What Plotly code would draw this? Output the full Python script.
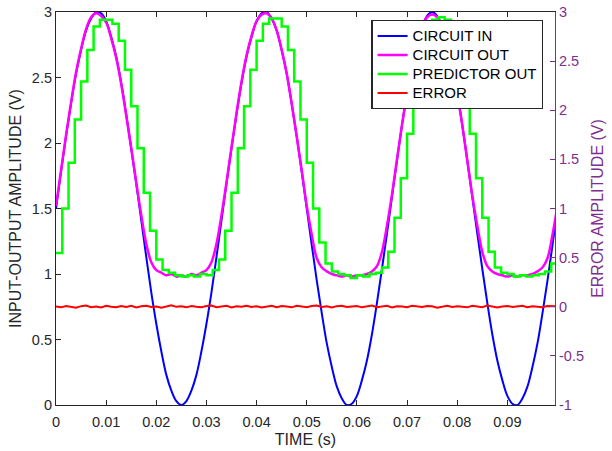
import plotly.graph_objects as go

# Sample grids (s)
DT = 0.001
TS = 0.00125

# Input sine (V)
circuit_in = [
    1.50, 1.78, 2.05, 2.30, 2.53, 2.71, 2.86, 2.95, 3.00, 2.99,
    2.93, 2.81, 2.66, 2.46, 2.22, 1.96, 1.69, 1.41, 1.13, 0.86,
    0.62, 0.41, 0.23, 0.11, 0.03, 0.00, 0.03, 0.11, 0.23, 0.41,
    0.62, 0.86, 1.13, 1.41, 1.69, 1.96, 2.22, 2.46, 2.66, 2.81,
    2.93, 2.99, 3.00, 2.95, 2.86, 2.71, 2.53, 2.30, 2.05, 1.78,
    1.50, 1.22, 0.95, 0.70, 0.47, 0.29, 0.14, 0.05, 0.00, 0.01,
    0.07, 0.19, 0.34, 0.54, 0.78, 1.04, 1.31, 1.59, 1.87, 2.14,
    2.38, 2.59, 2.77, 2.89, 2.97, 3.00, 2.97, 2.89, 2.77, 2.59,
    2.38, 2.14, 1.87, 1.59, 1.31, 1.04, 0.78, 0.54, 0.34, 0.19,
    0.07, 0.01, 0.00, 0.05, 0.14, 0.29, 0.47, 0.70, 0.95, 1.22,
    1.50,
]

# Clamped circuit output (V)
circuit_out = [
    1.52, 1.79, 2.06, 2.31, 2.54, 2.72, 2.87, 2.96, 2.99, 2.97,
    2.92, 2.80, 2.65, 2.45, 2.21, 1.96, 1.70, 1.45, 1.23, 1.09,
    1.03, 1.01, 0.99, 1.00, 0.98, 0.99, 0.98, 1.00, 0.99, 1.01,
    1.03, 1.09, 1.23, 1.45, 1.70, 1.97, 2.23, 2.47, 2.67, 2.82,
    2.93, 2.98, 2.99, 2.95, 2.86, 2.71, 2.53, 2.30, 2.05, 1.79,
    1.52, 1.30, 1.12, 1.05, 1.02, 1.00, 0.99, 0.98, 0.99, 0.98,
    0.99, 0.99, 1.00, 1.02, 1.06, 1.17, 1.37, 1.61, 1.88, 2.14,
    2.38, 2.59, 2.77, 2.89, 2.96, 2.98, 2.96, 2.89, 2.77, 2.59,
    2.38, 2.14, 1.87, 1.60, 1.37, 1.17, 1.06, 1.02, 1.00, 0.99,
    0.98, 0.99, 0.98, 0.99, 0.99, 1.00, 1.02, 1.05, 1.12, 1.30,
    1.52,
]

# Zero-order-hold predictor output (V), one value per sample period
predictor_out = [
    1.16, 1.50, 1.85, 2.18, 2.47, 2.71, 2.89, 2.94, 2.94, 2.91,
    2.78, 2.56, 2.28, 1.96, 1.62, 1.33, 1.11, 1.03, 1.01, 0.99,
    0.98, 0.99, 0.98, 1.00, 0.99, 1.03, 1.11, 1.33, 1.62, 1.96,
    2.28, 2.56, 2.78, 2.91, 2.95, 2.95, 2.89, 2.71, 2.47, 2.18,
    1.85, 1.50, 1.24, 1.08, 1.02, 1.00, 0.99, 0.97, 0.99, 0.98,
    1.00, 1.01, 1.05, 1.17, 1.43, 1.73, 2.07, 2.38, 2.64, 2.84,
    2.94, 2.96, 2.94, 2.84, 2.64, 2.38, 2.07, 1.73, 1.43, 1.17,
    1.05, 1.01, 1.00, 0.98, 0.99, 0.98, 0.99, 1.00, 1.02, 1.08,
    1.12,
]

# Prediction error (V)
error = [
    0.004, -0.006, 0.008, 0.002, -0.010, 0.006, 0.012, -0.004, 0.003, -0.008,
    0.010, 0.001, -0.005, 0.007, -0.002, 0.009, -0.007, 0.004, 0.011, -0.003,
    0.002, -0.009, 0.006, 0.014, -0.001, 0.005, -0.006, 0.008, 0.000, -0.004,
    0.007, 0.012, -0.005, 0.003, 0.009, -0.008, 0.004, 0.001, 0.010, -0.003,
    0.006, -0.007, 0.002, 0.011, -0.004, 0.008, 0.003, -0.006, 0.009, 0.001,
    -0.005, 0.007, 0.013, -0.002, 0.004, -0.008, 0.006, 0.010, -0.003, 0.002,
    0.008, -0.006, 0.005, 0.012, -0.004, 0.001, 0.009, -0.007, 0.006, 0.003,
    -0.005, 0.010, 0.002, -0.003, 0.008, 0.005, -0.009, 0.004, 0.011, -0.002,
    0.006, 0.000, -0.006, 0.009, 0.003, -0.004, 0.012, 0.005, -0.007, 0.002,
    0.008, -0.003, 0.006, 0.010, -0.005, 0.004, 0.001, -0.006, 0.007, 0.003,
    0.005,
]

time_fast = [i * DT for i in range(len(circuit_in))]
time_hold = [i * TS for i in range(len(predictor_out))]

series_names = ["CIRCUIT IN", "CIRCUIT OUT", "PREDICTOR OUT", "ERROR"]

x_ticks = [0, 0.01, 0.02, 0.03, 0.04, 0.05, 0.06, 0.07, 0.08, 0.09]
x_labels = ["0", "0.01", "0.02", "0.03", "0.04", "0.05", "0.06", "0.07", "0.08", "0.09"]
left_ticks = [0, 0.5, 1, 1.5, 2, 2.5, 3]
left_labels = ["0", "0.5", "1", "1.5", "2", "2.5", "3"]
right_ticks = [-1, -0.5, 0, 0.5, 1, 1.5, 2, 2.5, 3]
right_labels = ["-1", "-0.5", "0", "0.5", "1", "1.5", "2", "2.5", "3"]

PURPLE = "#7E2F8E"
DARK = "#262626"
FONT = "Liberation Sans, Arial, Helvetica, sans-serif"


def legend_label(text):
    # larger glyphs than the legend's row pitch so the box stays compact
    return '<span style="font-size:15px">' + text + "</span>"


fig = go.Figure()
fig.add_trace(go.Scatter(x=time_fast, y=circuit_in, mode="lines", name=legend_label(series_names[0]),
                         line=dict(color="#0000FF", width=2, shape="spline")))
fig.add_trace(go.Scatter(x=time_fast, y=circuit_out, mode="lines", name=legend_label(series_names[1]),
                         line=dict(color="#FF00FF", width=2.5, shape="spline")))
fig.add_trace(go.Scatter(x=time_hold, y=predictor_out, mode="lines", name=legend_label(series_names[2]),
                         line=dict(color="#00FF00", width=2.5, shape="hv")))
fig.add_trace(go.Scatter(x=time_fast, y=error, mode="lines", name=legend_label(series_names[3]),
                         yaxis="y2", line=dict(color="#FF0000", width=2)))

fig.update_layout(
    width=612, height=451,
    margin=dict(l=56, r=57, t=12, b=46, autoexpand=False),
    paper_bgcolor="white", plot_bgcolor="white",
    font=dict(family=FONT, size=14.5, color=DARK),
    showlegend=True,
    legend=dict(x=0.632, y=0.979, xanchor="left", yanchor="top",
                bgcolor="white", bordercolor=DARK, borderwidth=1.2,
                font=dict(size=12.2, color="#000000"), tracegroupgap=0,
                itemwidth=30),
    xaxis=dict(range=[0, 0.0995], tickvals=x_ticks, ticktext=x_labels,
               ticks="inside", ticklen=5, tickcolor=DARK, ticklabelstandoff=3,
               showline=True, linecolor=DARK, linewidth=1.2, mirror="ticks",
               showgrid=False, zeroline=False, automargin=False,
               title=dict(text="TIME (s)", standoff=5, font=dict(size=16))),
    yaxis=dict(range=[0, 3], tickvals=left_ticks, ticktext=left_labels,
               ticks="inside", ticklen=5, tickcolor=DARK,
               showline=True, linecolor=DARK, linewidth=1.2,
               showgrid=False, zeroline=False, automargin=False,
               title=dict(text="INPUT-OUTPUT AMPLITUDE (V)", standoff=6, font=dict(size=16))),
    yaxis2=dict(range=[-1, 3], tickvals=right_ticks, ticktext=right_labels,
                overlaying="y", side="right",
                ticks="inside", ticklen=5, tickcolor=PURPLE,
                tickfont=dict(color=PURPLE, size=14.5),
                showline=True, linecolor=PURPLE, linewidth=1.2,
                showgrid=False, zeroline=False, automargin=False,
                title=dict(text="ERROR AMPLITUDE (V)", standoff=8,
                           font=dict(color=PURPLE, size=16))),
)

fig.write_html("out.html")
